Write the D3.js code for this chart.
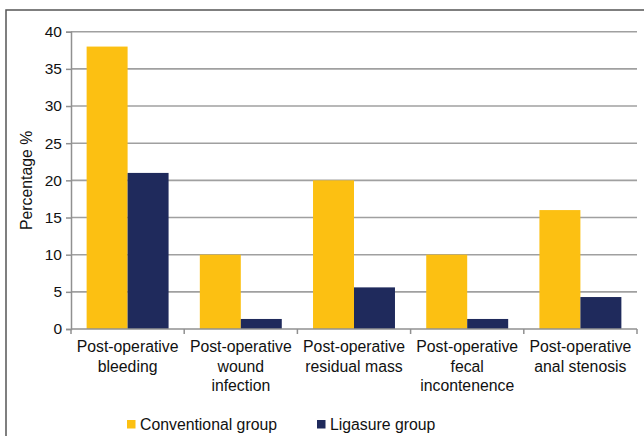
<!DOCTYPE html>
<html>
<head>
<meta charset="utf-8">
<script src="https://cdn.jsdelivr.net/npm/d3@7"></script>
<style>
  html, body { margin: 0; padding: 0; background: #fff; }
  svg { display: block; font-family: "Liberation Sans", Arial, sans-serif; }
</style>
</head>
<body>
<svg id="chart" width="644" height="436"></svg>
<script>
// Complication categories (each label split into display lines)
const categories = [
  ["Post-operative", "bleeding"],
  ["Post-operative", "wound", "infection"],
  ["Post-operative", "residual mass"],
  ["Post-operative", "fecal", "incontenence"],
  ["Post-operative", "anal stenosis"]
];
const seriesNames = ["Conventional group", "Ligasure group"];
const conventional = [38, 10, 20, 10, 16];
const ligasure = [21, 1.35, 5.6, 1.35, 4.3];
const yTicks = [0, 5, 10, 15, 20, 25, 30, 35, 40];
const colors = ["#fcc012", "#1f2a5c"];

const FS = 15.8;
const svg = d3.select("#chart");
const margin = { left: 71, right: 7, top: 31.7, bottom: 107 };
const W = 644, H = 436;
const plotW = W - margin.left - margin.right;
const plotH = H - margin.top - margin.bottom;

// Outer frame (top and left edges)
svg.append("path")
  .attr("d", `M6,${H} L6,10 L${W},10`)
  .attr("fill", "none").attr("stroke", "#555").attr("stroke-width", 1.5);

const g = svg.append("g").attr("transform", `translate(${margin.left},${margin.top})`);

const idx = d3.range(categories.length);
const x0 = d3.scaleBand().domain(idx).range([0, plotW]).padding(0);
const gap = x0.bandwidth() * 0.138;
const x1 = d3.scaleBand().domain([0, 1]).range([gap, x0.bandwidth() - gap]).padding(0);
const y = d3.scaleLinear().domain([0, 40]).range([plotH, 0]);

// Horizontal gridlines
g.append("g").selectAll("line").data(yTicks.filter(t => t > 0)).join("line")
  .attr("x1", 0).attr("x2", plotW)
  .attr("y1", d => y(d)).attr("y2", d => y(d))
  .attr("stroke", "#a0a0a0").attr("stroke-width", 1.6);

// Y axis
const yAxis = g.append("g")
  .call(d3.axisLeft(y).tickValues(yTicks).tickSize(5).tickPadding(4));
yAxis.select(".domain").attr("stroke", "#909090").attr("stroke-width", 1.5);
yAxis.selectAll(".tick line").attr("stroke", "#909090").attr("stroke-width", 1.5);
yAxis.selectAll(".tick text").attr("font-size", 15.5).attr("fill", "#111")
  .attr("font-family", "Liberation Sans, Arial, sans-serif");

// Bars
const groups = g.append("g").selectAll("g").data(idx).join("g")
  .attr("transform", i => `translate(${x0(i)},0)`);
groups.selectAll("rect")
  .data(i => [conventional[i], ligasure[i]].map((v, s) => ({ v, s })))
  .join("rect")
  .attr("x", d => x1(d.s))
  .attr("width", x1.bandwidth())
  .attr("y", d => y(d.v))
  .attr("height", d => y(0) - y(d.v))
  .attr("fill", d => colors[d.s]);

// X axis line and category boundary ticks
g.append("line").attr("x1", 0).attr("x2", plotW).attr("y1", y(0)).attr("y2", y(0))
  .attr("stroke", "#909090").attr("stroke-width", 1.6);
const bounds = d3.range(categories.length + 1).map(i => i === categories.length ? plotW : x0(i));
g.append("g").selectAll("line").data(bounds).join("line")
  .attr("x1", d => d).attr("x2", d => d)
  .attr("y1", y(0)).attr("y2", y(0) + 5)
  .attr("stroke", "#909090").attr("stroke-width", 1.5);

// Category labels
const lab = g.append("g").selectAll("text").data(idx).join("text")
  .attr("text-anchor", "middle")
  .attr("font-size", FS).attr("fill", "#111")
  .attr("transform", i => `translate(${x0(i) + x0.bandwidth() / 2},${y(0) + 23})`);
lab.selectAll("tspan").data(i => categories[i]).join("tspan")
  .attr("x", 0).attr("dy", (d, k) => k === 0 ? 0 : 19.5)
  .text(d => d);

// Y axis title
svg.append("text")
  .attr("transform", `translate(32,${margin.top + plotH / 2}) rotate(-90)`)
  .attr("text-anchor", "middle")
  .attr("font-size", FS).attr("fill", "#111")
  .text("Percentage %");

// Legend
const legendX = [127, 317];
const leg = svg.append("g").selectAll("g").data(seriesNames).join("g")
  .attr("transform", (d, i) => `translate(${legendX[i]},420)`);
leg.append("rect").attr("width", 8.5).attr("height", 8.5).attr("fill", (d, i) => colors[i]);
leg.append("text").attr("x", 13).attr("y", 9.5).attr("font-size", FS).attr("fill", "#111")
  .text(d => d);
</script>
</body>
</html>
